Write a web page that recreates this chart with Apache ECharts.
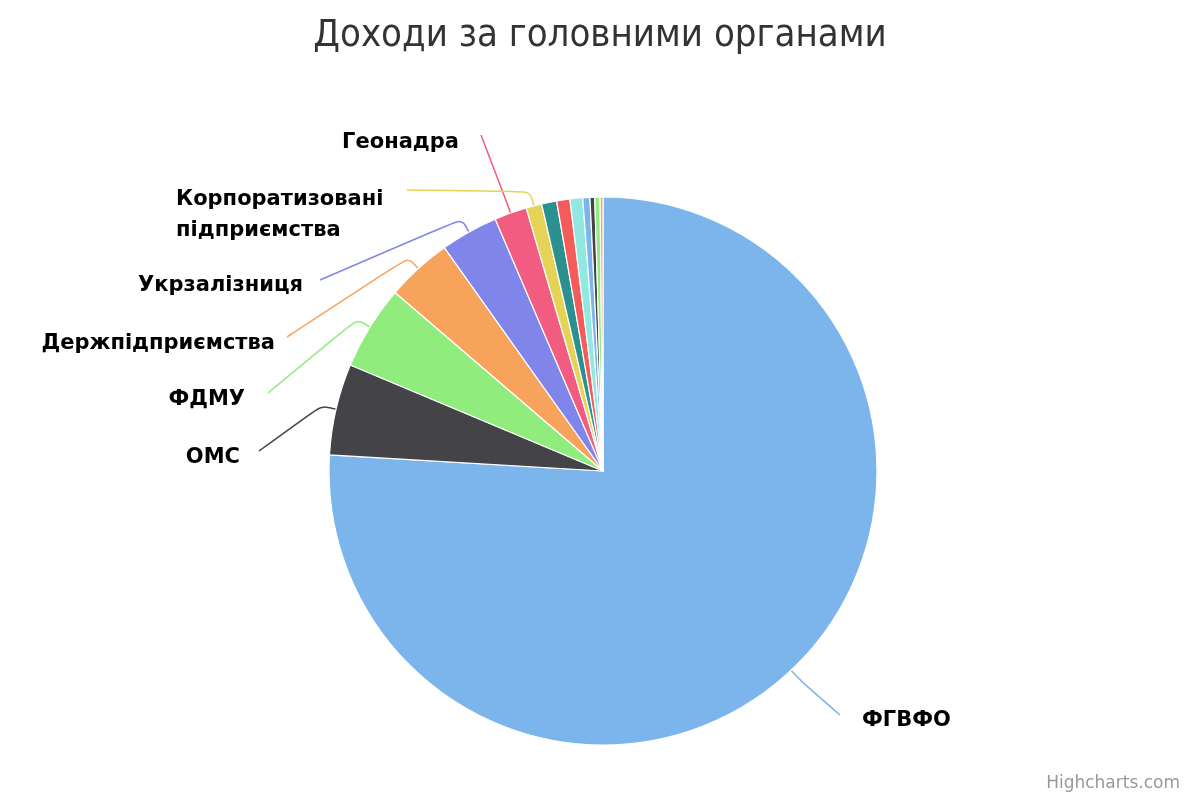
<!DOCTYPE html>
<html>
<head>
<meta charset="utf-8">
<script src="https://cdn.jsdelivr.net/npm/echarts@6/dist/echarts.min.js"></script>
<style>
  html, body { margin: 0; padding: 0; background: #fff; }
  #chart { width: 1200px; height: 800px; }
</style>
</head>
<body>
<div id="chart"></div>
<script>
// ---- data ----
const categories = [
  'ФГВФО', 'ОМС', 'ФДМУ', 'Держпідприємства', 'Укрзалізниця', 'Геонадра',
  'Корпоратизовані підприємства', 'Інші 1', 'Інші 2', 'Інші 3', 'Інші 4',
  'Інші 5', 'Інші 6', 'Інші 7'
];
const values = [75.97, 5.39, 4.97, 3.89, 3.39, 1.92, 0.92, 0.89, 0.78, 0.75, 0.42, 0.28, 0.31, 0.17];
const labelledCount = 7;
const palette = ['#7cb5ec', '#434348', '#90ed7d', '#f7a35c', '#8085e9', '#f15c80', '#e4d354', '#2b908f', '#f45b5b', '#91e8e1'];

// ---- layout (label placement only) ----
const CX = 603, CY = 471, R = 274;
const labelPlacement = {
  'ФГВФО': { x: 862, y: 721, align: 'left', ax: 840, ay: 715 },
  'ОМС': { x: 240, y: 458, align: 'right', ax: 259, ay: 451 },
  'ФДМУ': { x: 245, y: 400, align: 'right', ax: 268, ay: 393 },
  'Держпідприємства': { x: 275, y: 344, align: 'right', ax: 287, ay: 337 },
  'Укрзалізниця': { x: 303, y: 286, align: 'right', ax: 320, ay: 280 },
  'Геонадра': { x: 459, y: 143, align: 'right', ax: 481, ay: 135 },
  'Корпоратизовані підприємства': { x: 176, y: 215, align: 'left', ax: 407, ay: 190 }
};

const total = values.reduce((a, b) => a + b, 0);
const midAngles = [];
{
  let acc = 0;
  values.forEach(v => { midAngles.push((acc + v / 2) / total * Math.PI * 2); acc += v; });
}

const seriesData = categories.map((name, i) => {
  const item = {
    name: name,
    value: values[i],
    itemStyle: { color: palette[i % palette.length] }
  };
  if (i >= labelledCount) {
    item.label = { show: false };
    item.labelLine = { show: false };
  }
  return item;
});

const chart = echarts.init(document.getElementById('chart'), null, { renderer: 'canvas' });
chart.setOption({
  animation: false,
  backgroundColor: '#ffffff',
  title: {
    text: 'Доходи за головними органами',
    left: 'center',
    top: 12,
    textStyle: {
      fontFamily: 'DejaVu Sans Condensed, DejaVu Sans',
      fontSize: 38,
      fontWeight: 'normal',
      color: '#333333'
    }
  },
  graphic: [{
    type: 'text',
    right: 20,
    bottom: 8,
    style: {
      text: 'Highcharts.com',
      fontFamily: 'DejaVu Sans',
      fontSize: 17,
      fill: '#999999'
    }
  }],
  series: [{
    type: 'pie',
    center: [CX, CY],
    radius: R,
    startAngle: 90,
    clockwise: true,
    avoidLabelOverlap: false,
    data: seriesData,
    itemStyle: { borderColor: '#ffffff', borderWidth: 1.2 },
    label: {
      show: true,
      position: 'outside',
      formatter: p => p.name.replace(' ', '\n'),
      fontFamily: 'DejaVu Sans',
      fontWeight: 'bold',
      fontSize: 21,
      lineHeight: 31,
      color: '#000000'
    },
    labelLine: {
      show: true,
      length: 14,
      length2: 40,
      smooth: 0.3,
      lineStyle: { width: 1.5 }
    },
    labelLayout: function (params) {
      const i = params.dataIndex;
      const pos = labelPlacement[categories[i]];
      if (!pos) return {};
      const a = midAngles[i];
      const dx = Math.sin(a), dy = -Math.cos(a);
      const p0 = [CX + R * dx, CY + R * dy];
      const p1 = [CX + (R + 15) * dx, CY + (R + 15) * dy];
      return {
        x: pos.x, y: pos.y, align: pos.align, verticalAlign: 'middle',
        labelLinePoints: [p0, p1, [pos.ax, pos.ay]]
      };
    },
    emphasis: { disabled: true }
  }]
});
</script>
</body>
</html>
